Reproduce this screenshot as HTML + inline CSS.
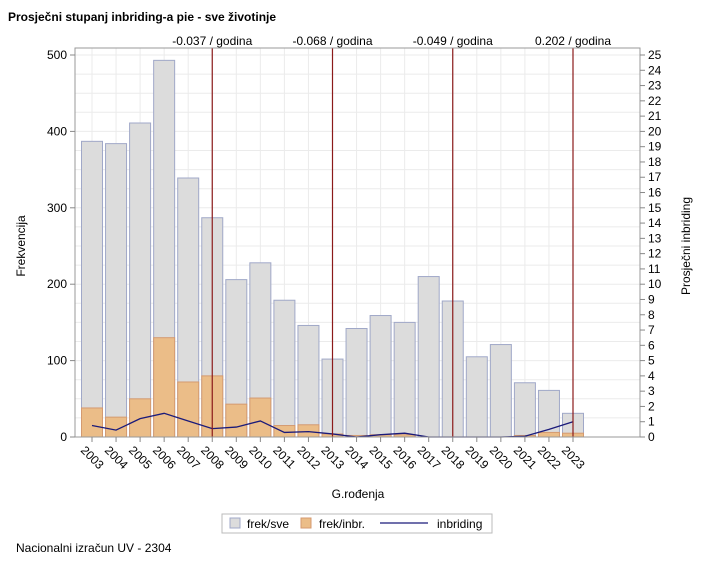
<!DOCTYPE html>
<html><head><meta charset="utf-8"><style>
body{margin:0;background:#fff;font-family:"Liberation Sans",sans-serif;}
svg text{font-family:"Liberation Sans",sans-serif;}
</style></head><body>
<svg id="c" width="718" height="567" xmlns="http://www.w3.org/2000/svg">
<text x="8" y="21" font-size="12" font-weight="bold">Prosječni stupanj inbriding-a pie - sve životinje</text>
<text x="16" y="552" font-size="12">Nacionalni izračun UV - 2304</text>
</svg>
<script>
const categories=["2003","2004","2005","2006","2007","2008","2009","2010","2011","2012","2013","2014","2015","2016","2017","2018","2019","2020","2021","2022","2023"];
const frekSve=[387,384,411,493,339,287,206,228,179,146,102,142,159,150,210,178,105,121,71,61,31];
const frekInbr=[38,26,50,130,72,80,43,51,15,16,4,2,3,3,0,0,0,0,2,6,5];
const inbriding=[0.75,0.45,1.2,1.55,1.05,0.55,0.65,1.05,0.3,0.35,0.2,0,0.15,0.25,0,0,0,0,0.05,0.5,1.0];
const refYears=["2008","2013","2018","2023"];
const refLabels=["-0.037 / godina","-0.068 / godina","-0.049 / godina","0.202 / godina"];
const leftTicks=[0,100,200,300,400,500];
const rightTicks=[];for(let i=0;i<=25;i++)rightTicks.push(i);

const svg=document.getElementById('c');const NS="http://www.w3.org/2000/svg";
function mk(t,a,p){const e=document.createElementNS(NS,t);for(const k in a)e.setAttribute(k,a[k]);(p||svg).appendChild(e);return e;}
const L=75,R=640,T=48,B=437;
const y0=437,y500=55;
const yL=v=>y0-(v/500)*(y0-y500);
const yR=v=>y0-(v/25)*(y0-y500);
const x=i=>92+i*24.05;
const bw=21;
// grid
for(let v=0;v<=500;v+=25){const g=mk('line',{x1:L,x2:R,y1:yL(v),y2:yL(v),stroke:'#ebebeb'});}
categories.forEach((c,i)=>{const g=mk('line',{x1:x(i),x2:x(i),y1:T,y2:B,stroke:'#ebebeb'});});
// bars
categories.forEach((c,i)=>{
 const b=mk('rect',{x:x(i)-bw/2,y:yL(frekSve[i]),width:bw,height:y0-yL(frekSve[i]),fill:'#dcdcdc',stroke:'#a0a8c8'});
 
 const o=mk('rect',{x:x(i)-bw/2,y:yL(frekInbr[i]),width:bw,height:y0-yL(frekInbr[i]),fill:'#ebbd88',stroke:'#d49a70'});
 
});
// line
const pl=mk('polyline',{points:inbriding.map((v,i)=>x(i)+','+yR(v)).join(' '),fill:'none',stroke:'#1a1a7a','stroke-width':1.3});

// ref lines
refYears.forEach((yr,k)=>{const i=categories.indexOf(yr);
 const l=mk('line',{x1:x(i),x2:x(i),y1:T,y2:B,stroke:'#8b1a1a','stroke-width':1.2});
 
 const t=mk('text',{x:x(i),y:45,'font-size':12,'text-anchor':'middle'});t.textContent=refLabels[k];
 });
// frame
const f=mk('rect',{x:L,y:T,width:R-L,height:B-T,fill:'none',stroke:'#999'});
// left ticks
leftTicks.forEach(v=>{mk('line',{x1:L-5,x2:L,y1:yL(v),y2:yL(v),stroke:'#888'});
 const t=mk('text',{x:L-8,y:yL(v)+4,'font-size':12,'text-anchor':'end'});t.textContent=v;
 });
rightTicks.forEach(v=>{mk('line',{x1:R,x2:R+5,y1:yR(v),y2:yR(v),stroke:'#888'});
 const t=mk('text',{x:R+8,y:yR(v)+4,'font-size':12});t.textContent=v;
 });
categories.forEach((c,i)=>{mk('line',{x1:x(i),x2:x(i),y1:B,y2:B+5,stroke:'#888'});
 const t=mk('text',{x:x(i)+6,y:B+14,'font-size':12,'text-anchor':'end',transform:`rotate(45 ${x(i)+6} ${B+14})`});
 t.setAttribute('transform',`rotate(45 ${x(i)-12} ${B+14})`);t.setAttribute('x',x(i)-12);t.setAttribute('text-anchor','start');
 t.textContent=c;});
let t=mk('text',{x:358,y:498,'font-size':12,'text-anchor':'middle'});t.textContent='G.rođenja';
t=mk('text',{x:25,y:246,'font-size':12,'text-anchor':'middle',transform:'rotate(-90 25 246)'});t.textContent='Frekvencija';
t=mk('text',{x:690,y:246,'font-size':12,'text-anchor':'middle',transform:'rotate(-90 690 246)'});t.textContent='Prosječni inbriding';
// legend
const lg=mk('g',{});
mk('rect',{x:222,y:514,width:270,height:19,fill:'#fff',stroke:'#bbb'},lg);
mk('rect',{x:230,y:518,width:10,height:10,fill:'#dcdcdc',stroke:'#a0a8c8'},lg);
t=mk('text',{x:247,y:528,'font-size':12},lg);t.textContent='frek/sve';
mk('rect',{x:301,y:518,width:10,height:10,fill:'#ebbd88',stroke:'#d49a70'},lg);
t=mk('text',{x:319,y:528,'font-size':12},lg);t.textContent='frek/inbr.';
mk('line',{x1:380,x2:428,y1:523,y2:523,stroke:'#1a1a7a','stroke-width':1.3},lg);
t=mk('text',{x:437,y:528,'font-size':12},lg);t.textContent='inbriding';
</script>
</body></html>
